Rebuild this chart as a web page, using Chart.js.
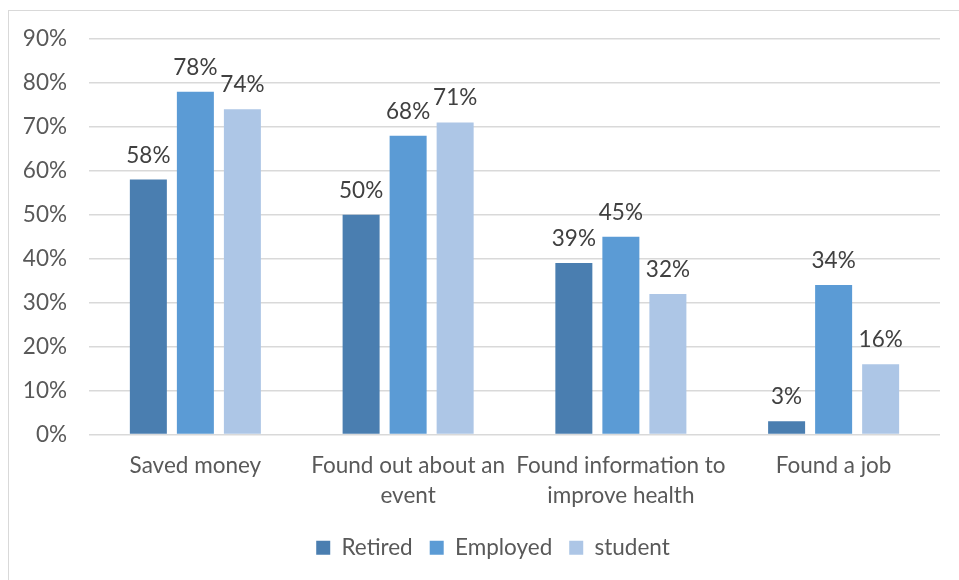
<!DOCTYPE html>
<html>
<head>
<meta charset="utf-8">
<script src="https://cdn.jsdelivr.net/npm/chart.js@4/dist/chart.umd.min.js"></script>
<style>
  html, body { margin: 0; padding: 0; background: #ffffff; overflow: hidden; }
  #frame { position: absolute; left: 8px; top: 10px; width: 1000px; height: 620px; border: 1px solid #d9d9d9; }
  #wrap { position: absolute; left: 0; top: 0; width: 959px; height: 580px; }
</style>
</head>
<body>
<div id="frame"></div>
<div id="wrap"><canvas id="c" width="959" height="580"></canvas></div>
<script>
const categories = [
  "Saved money",
  ["Found out about an", "event"],
  ["Found information to", "improve health"],
  "Found a job"
];
const retired = [58, 50, 39, 3];
const employed = [78, 68, 45, 34];
const student = [74, 71, 32, 16];
const seriesNames = ["Retired", "Employed", "student"];
const yTicks = [0, 10, 20, 30, 40, 50, 60, 70, 80, 90];

const FONT = "Lato";
const FS = 22.5;
const TEXT = "#595959";

const labelPlugin = {
  id: "barLabels",
  afterDatasetsDraw(chart) {
    const ctx = chart.ctx;
    ctx.save();
    ctx.font = FS + "px " + FONT;
    ctx.fillStyle = "#404040";
    ctx.textAlign = "center";
    ctx.textBaseline = "alphabetic";
    chart.data.datasets.forEach((ds, i) => {
      const meta = chart.getDatasetMeta(i);
      meta.data.forEach((bar, j) => {
        ctx.fillText(ds.data[j] + "%", bar.x, bar.y - 17);
      });
    });
    ctx.restore();
  }
};

const legendShift = {
  id: "legendShift",
  afterLayout(chart) {
    if (chart.legend) {
      chart.legend.left += 23;
      chart.legend.right += 23;
    }
  }
};

new Chart(document.getElementById("c"), {
  type: "bar",
  data: {
    labels: categories,
    datasets: [
      { label: seriesNames[0], data: retired, backgroundColor: "#4a7eb0" },
      { label: seriesNames[1], data: employed, backgroundColor: "#5b9bd5" },
      { label: seriesNames[2], data: student, backgroundColor: "#adc6e6" }
    ]
  },
  options: {
    responsive: false,
    animation: false,
    layout: { padding: { left: 0, right: 19, top: 39, bottom: 11 } },
    datasets: { bar: { categoryPercentage: 0.663, barPercentage: 0.787 } },
    plugins: {
      legend: {
        position: "bottom",
        labels: {
          boxWidth: 14, boxHeight: 14, padding: 17,
          color: TEXT, font: { family: FONT, size: FS }
        }
      },
      tooltip: { enabled: false }
    },
    scales: {
      x: {
        grid: { display: false, drawTicks: false },
        border: { display: false },
        ticks: {
          color: TEXT, padding: 16, maxRotation: 0, autoSkip: false,
          font: { family: FONT, size: FS, lineHeight: 30 / FS }
        },
        afterFit(s) { s.height = 85; }
      },
      y: {
        min: 0, max: 90,
        afterBuildTicks(s) { s.ticks = yTicks.map(v => ({ value: v })); },
        grid: { color: "#d9d9d9", lineWidth: 1.5, drawTicks: false },
        border: { display: false },
        ticks: {
          color: TEXT, padding: 22,
          font: { family: FONT, size: FS },
          callback: v => v + "%"
        },
        afterFit(s) { s.width = 89; }
      }
    }
  },
  plugins: [labelPlugin, legendShift]
});
</script>
</body>
</html>
